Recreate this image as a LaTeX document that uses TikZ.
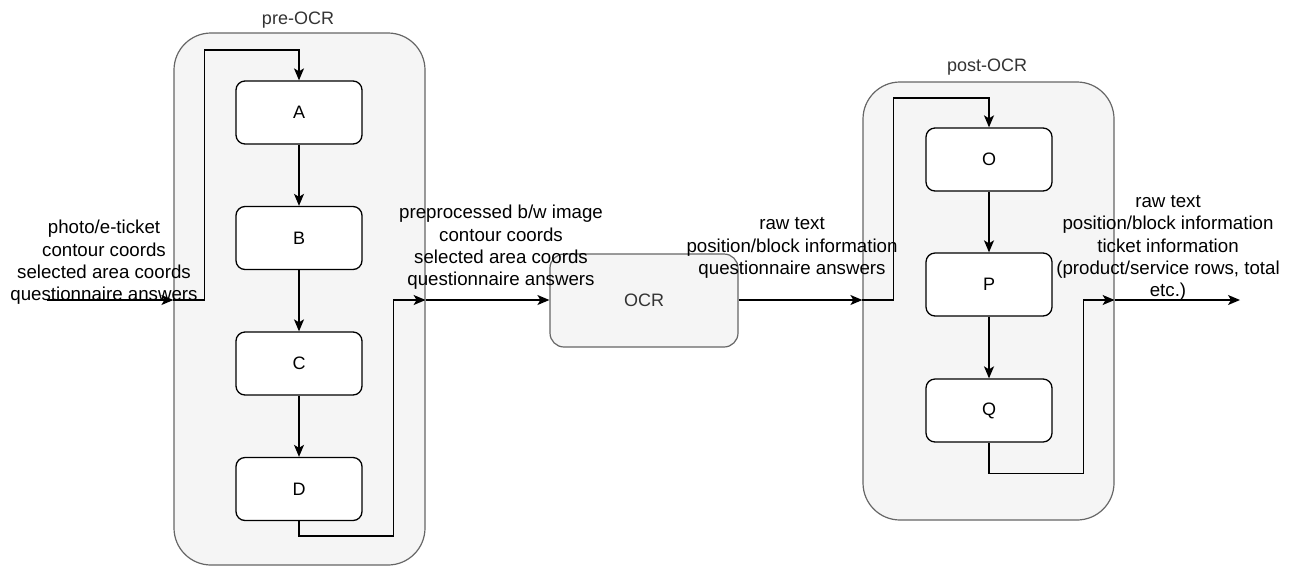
\documentclass[tikz,border=0pt]{standalone}
\usepackage{fontspec}
\setmainfont{Liberation Sans}
\usetikzlibrary{arrows.meta,calc}
\definecolor{contfill}{HTML}{F5F5F5}
\definecolor{contline}{HTML}{666666}
\definecolor{conttext}{HTML}{333333}
\tikzset{
  container/.style={draw=contline, fill=contfill, line width=1.2pt, rounded corners=37pt, minimum width=251pt, inner sep=0pt},
  stepbox/.style={draw=black, fill=white, line width=1.3pt, rounded corners=9pt, minimum width=126pt, minimum height=63pt, inner sep=0pt, font=\fontsize{18}{22}\selectfont},
  ocrbox/.style={draw=contline, fill=contfill, line width=1.2pt, rounded corners=14pt, minimum width=188pt, minimum height=93pt, inner sep=0pt, text=conttext, font=\fontsize{18}{22}\selectfont},
  lbl/.style={align=center, inner sep=0pt, font=\fontsize{18.7}{22.3}\selectfont},
  grlbl/.style={inner sep=0pt, text=conttext, font=\fontsize{18}{22}\selectfont},
  arr/.style={line width=1.4pt, -{Stealth[length=12pt,width=10pt,inset=3pt]}}
}
\begin{document}
\begin{tikzpicture}[x=1pt,y=-1pt]
\useasboundingbox (0,0) rectangle (1292,566);
% containers
\node[container, minimum height=532pt] (pre) at (299.5,299) {};
\node[grlbl] (prelbl) at (298,20) {pre-OCR};
\node[container, minimum height=438pt] (post) at (988.5,301) {};
\node[grlbl] (postlbl) at (987,67) {post-OCR};
% steps
\node[stepbox] (A) at (299,112.5) {A};
\node[stepbox] (B) at (299,238) {B};
\node[stepbox] (C) at (299,363.5) {C};
\node[stepbox] (D) at (299,489) {D};
\node[ocrbox] (OCR) at (644,300.5) {OCR};
\node[stepbox] (O) at (989,159.5) {O};
\node[stepbox] (P) at (989,284.5) {P};
\node[stepbox] (Q) at (989,410.5) {Q};
% coordinates
\coordinate (in) at (47,300);
\coordinate (pin) at (in -| pre.west);
\coordinate (pout) at (pre.east |- in);
\coordinate (qin) at (post.west |- in);
\coordinate (qout) at (post.east |- in);
\coordinate (end) at (1240,300);
% connectors
\draw[arr] (in) -- (pin);
\draw[arr] (pin) -- ++(31,0) -- ++(0,-250) -| (A.north);
\draw[arr] (A) -- (B);
\draw[arr] (B) -- (C);
\draw[arr] (C) -- (D);
\draw[arr] (D.south) -- ++(0,15) -| ([xshift=-32pt]pout) -- (pout);
\draw[arr] (pout) -- (OCR.west |- pout);
\draw[arr] (OCR.east |- qin) -- (qin);
\draw[arr] (qin) -- ++(31,0) -- ++(0,-202) -| (O.north);
\draw[arr] (O) -- (P);
\draw[arr] (P) -- (Q);
\draw[arr] (Q.south) -- ++(0,31) -| ([xshift=-31pt]qout) -- (qout);
\draw[arr] (qout) -- (end);
% labels
\node[lbl] (l1) at (104,262.5) {photo/e-ticket\\contour coords\\selected area coords\\questionnaire answers};
\node[lbl] (l2) at (501,247.5) {preprocessed b/w image\\contour coords\\selected area coords\\questionnaire answers};
\node[lbl] (l3) at (792,248) {raw text\\position/block information\\questionnaire answers};
\node[lbl] (l4) at (1168,248) {raw text\\position/block information\\ticket information\\(product/service rows, total\\etc.)};
\end{tikzpicture}
\end{document}
